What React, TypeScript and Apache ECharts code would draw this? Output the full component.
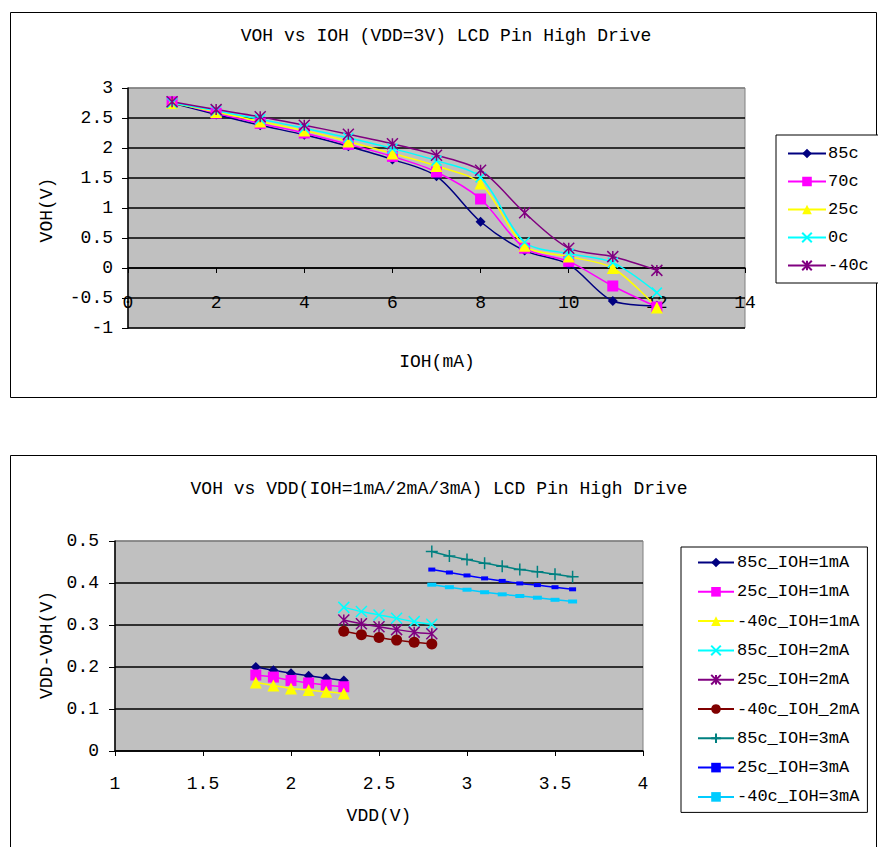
import React, { useEffect, useRef } from 'react';
import * as echarts from 'echarts';

// ---------- Data: top chart (VOH vs IOH, VDD=3V) ----------
const iohValues = [1, 2, 3, 4, 5, 6, 7, 8, 9, 10, 11, 12];
const topSeriesNames = ['85c', '70c', '25c', '0c', '-40c'];
const voh85c = [2.75, 2.56, 2.38, 2.22, 2.03, 1.81, 1.53, 0.77, 0.29, 0.06, -0.55, -0.63];
const voh70c = [2.77, 2.58, 2.41, 2.25, 2.06, 1.86, 1.6, 1.15, 0.33, 0.11, -0.3, -0.65];
const voh25c = [2.75, 2.6, 2.44, 2.29, 2.11, 1.91, 1.7, 1.41, 0.37, 0.19, 0.0, -0.66];
const voh0c = [2.75, 2.62, 2.48, 2.33, 2.17, 1.99, 1.79, 1.51, 0.43, 0.24, 0.09, -0.41];
const vohM40c = [2.77, 2.64, 2.52, 2.38, 2.23, 2.07, 1.88, 1.63, 0.92, 0.33, 0.19, -0.04];

// ---------- Data: bottom chart (VDD-VOH vs VDD) ----------
const vdd1mA = [1.8, 1.9, 2.0, 2.1, 2.2, 2.3];
const vdd2mA = [2.3, 2.4, 2.5, 2.6, 2.7, 2.8];
const vdd3mA = [2.8, 2.9, 3.0, 3.1, 3.2, 3.3, 3.4, 3.5, 3.6];
const drop85c1mA = [0.2, 0.192, 0.185, 0.179, 0.173, 0.168];
const drop25c1mA = [0.181, 0.176, 0.168, 0.162, 0.157, 0.153];
const dropM40c1mA = [0.163, 0.156, 0.149, 0.145, 0.141, 0.137];
const drop85c2mA = [0.342, 0.332, 0.324, 0.316, 0.308, 0.302];
const drop25c2mA = [0.312, 0.303, 0.296, 0.289, 0.283, 0.279];
const dropM40c2mA = [0.285, 0.277, 0.27, 0.264, 0.259, 0.255];
const drop85c3mA = [0.475, 0.464, 0.456, 0.447, 0.44, 0.432, 0.427, 0.421, 0.415];
const drop25c3mA = [0.432, 0.425, 0.418, 0.411, 0.405, 0.399, 0.395, 0.39, 0.385];
const dropM40c3mA = [0.396, 0.39, 0.384, 0.378, 0.373, 0.369, 0.365, 0.36, 0.356];
const bottomSeriesNames = [
  '85c_IOH=1mA', '25c_IOH=1mA', '-40c_IOH=1mA',
  '85c_IOH=2mA', '25c_IOH=2mA', '-40c_IOH_2mA',
  '85c_IOH=3mA', '25c_IOH=3mA', '-40c_IOH=3mA',
];

const topTitle = 'VOH vs IOH (VDD=3V) LCD Pin High Drive';
const bottomTitle = 'VOH vs VDD(IOH=1mA/2mA/3mA) LCD Pin High Drive';

const FONT = "'Liberation Mono', 'Courier New', monospace";

const X_PATH = 'path://M0,0L10,10M0,10L10,0';
const STAR_PATH = 'path://M0,0L10,10M0,10L10,0M5,0L5,10';
const PLUS_PATH = 'path://M5,0L5,10M0,5L10,5';

// top plot geometry (layout only)
const TOP_GRID = { left: 128, top: 88, width: 617, height: 240 };
const TOP_Y_MIN = -1;
const TOP_Y_MAX = 3;

function pairs(xs: number[], ys: number[]) {
  return xs.map((x, i) => [x, ys[i]]);
}

function lineSeries(
  name: string, xs: number[], ys: number[], color: string, symbol: string,
  symbolSize: any, axis: number, smooth: number, stroke = false,
) {
  return {
    type: 'line',
    name,
    xAxisIndex: axis,
    yAxisIndex: axis,
    data: pairs(xs, ys),
    symbol,
    symbolSize,
    smooth,
    showAllSymbol: true,
    lineStyle: { color, width: 1.5 },
    itemStyle: stroke
      ? { color, borderColor: color, borderWidth: 1.5 }
      : { color },
    emphasis: { disabled: true },
  };
}

export default function App() {
  const ref = useRef<HTMLDivElement>(null);

  useEffect(() => {
    if (!ref.current) return;
    const chart = echarts.init(ref.current, undefined, { renderer: 'svg' });

    const axisLabelStyle = { fontFamily: FONT, fontSize: 18, color: '#000' };
    // move the top x axis up from the plot bottom to the y=0 line
    const zeroOffset = -(TOP_GRID.height * (0 - TOP_Y_MIN)) / (TOP_Y_MAX - TOP_Y_MIN);

    const option: any = {
      animation: false,
      backgroundColor: '#fff',
      textStyle: { fontFamily: FONT },
      grid: [
        {
          ...TOP_GRID,
          show: true, backgroundColor: '#C0C0C0', borderColor: '#808080', borderWidth: 1,
        },
        {
          left: 115, top: 541, width: 528, height: 210,
          show: true, backgroundColor: '#C0C0C0', borderColor: '#808080', borderWidth: 1,
        },
      ],
      xAxis: [
        {
          type: 'value', gridIndex: 0, min: 0, max: 14, interval: 2,
          position: 'bottom', offset: zeroOffset,
          axisLine: { show: true, onZero: false, lineStyle: { color: '#000', width: 1.5 } },
          axisTick: { show: true, length: 5, lineStyle: { color: '#000' } },
          axisLabel: { ...axisLabelStyle, margin: 26, showMinLabel: true, showMaxLabel: true },
          splitLine: { show: false },
        },
        {
          type: 'value', gridIndex: 1, min: 1, max: 4, interval: 0.5,
          axisLine: { show: true, onZero: false, lineStyle: { color: '#000', width: 1.5 } },
          axisTick: { show: true, length: 5, lineStyle: { color: '#000' } },
          axisLabel: { ...axisLabelStyle, margin: 24, showMinLabel: true, showMaxLabel: true },
          splitLine: { show: false },
        },
      ],
      yAxis: [
        {
          type: 'value', gridIndex: 0, min: TOP_Y_MIN, max: TOP_Y_MAX, interval: 0.5,
          axisLine: { show: true, onZero: false, lineStyle: { color: '#000', width: 1.5 } },
          axisTick: { show: true, length: 6, lineStyle: { color: '#000' } },
          axisLabel: {
            ...axisLabelStyle, margin: 15,
            formatter: (v: number) => String(Math.round(v * 10) / 10),
          },
          splitLine: {
            show: true,
            lineStyle: {
              width: 1.5,
              color: ['#000', '#000', '#000', '#000', '#000', '#000', '#000', '#000', '#808080'],
            },
          },
        },
        {
          type: 'value', gridIndex: 1, min: 0, max: 0.5, interval: 0.1,
          axisLine: { show: true, onZero: false, lineStyle: { color: '#000', width: 1.5 } },
          axisTick: { show: true, length: 6, lineStyle: { color: '#000' } },
          axisLabel: {
            ...axisLabelStyle, margin: 16,
            formatter: (v: number) => (Math.abs(v) < 1e-9 ? '0' : v.toFixed(1)),
          },
          splitLine: {
            show: true,
            lineStyle: {
              width: 1.5,
              color: ['#000', '#000', '#000', '#000', '#000', '#808080'],
            },
          },
        },
      ],
      legend: [
        {
          data: topSeriesNames,
          orient: 'vertical',
          left: 776, top: 135,
          padding: [10, 10, 9, 11],
          itemGap: 11,
          itemWidth: 38, itemHeight: 12,
          borderColor: '#000', borderWidth: 1,
          backgroundColor: '#fff',
          selectedMode: false,
          textStyle: { fontFamily: FONT, fontSize: 17, color: '#000', padding: [0, 0, 0, -3] },
        },
        {
          data: bottomSeriesNames,
          orient: 'vertical',
          left: 681, top: 547,
          padding: [7, 8, 7, 16],
          itemGap: 12.3,
          itemWidth: 36, itemHeight: 12,
          borderColor: '#000', borderWidth: 1,
          backgroundColor: '#fff',
          selectedMode: false,
          textStyle: { fontFamily: FONT, fontSize: 17, color: '#000', padding: [0, 0, 0, -2] },
        },
      ],
      series: [
        lineSeries('85c', iohValues, voh85c, '#000080', 'diamond', 10, 0, 0.3),
        lineSeries('70c', iohValues, voh70c, '#FF00FF', 'rect', 11, 0, 0.3),
        lineSeries('25c', iohValues, voh25c, '#FFFF00', 'triangle', 12, 0, 0.3),
        lineSeries('0c', iohValues, voh0c, '#00FFFF', X_PATH, 10, 0, 0.3, true),
        lineSeries('-40c', iohValues, vohM40c, '#800080', STAR_PATH, 11, 0, 0.3, true),

        lineSeries('85c_IOH=1mA', vdd1mA, drop85c1mA, '#000080', 'diamond', 10, 1, 0.2),
        lineSeries('25c_IOH=1mA', vdd1mA, drop25c1mA, '#FF00FF', 'rect', 11, 1, 0.2),
        lineSeries('-40c_IOH=1mA', vdd1mA, dropM40c1mA, '#FFFF00', 'triangle', 12, 1, 0.2),
        lineSeries('85c_IOH=2mA', vdd2mA, drop85c2mA, '#00FFFF', X_PATH, 11, 1, 0.2, true),
        lineSeries('25c_IOH=2mA', vdd2mA, drop25c2mA, '#800080', STAR_PATH, 11, 1, 0.2, true),
        lineSeries('-40c_IOH_2mA', vdd2mA, dropM40c2mA, '#800000', 'circle', 11, 1, 0.2),
        lineSeries('85c_IOH=3mA', vdd3mA, drop85c3mA, '#008080', PLUS_PATH, 12, 1, 0.2, true),
        lineSeries('25c_IOH=3mA', vdd3mA, drop25c3mA, '#0000FF', 'rect', [7, 4], 1, 0.2),
        lineSeries('-40c_IOH=3mA', vdd3mA, dropM40c3mA, '#00CCFF', 'rect', [9, 4], 1, 0.2),
      ],
      graphic: [
        {
          type: 'rect', silent: true, z: -10,
          shape: { x: 10.5, y: 12.5, width: 866, height: 385 },
          style: { fill: 'none', stroke: '#000', lineWidth: 1 },
        },
        {
          type: 'rect', silent: true, z: -10,
          shape: { x: 10.5, y: 455.5, width: 866, height: 400 },
          style: { fill: 'none', stroke: '#000', lineWidth: 1 },
        },
        {
          type: 'text', x: 446, y: 36, silent: true,
          style: { text: topTitle, font: `18px ${FONT}`, fill: '#000', textAlign: 'center', textVerticalAlign: 'middle' },
        },
        {
          type: 'text', x: 439, y: 489, silent: true,
          style: { text: bottomTitle, font: `18px ${FONT}`, fill: '#000', textAlign: 'center', textVerticalAlign: 'middle' },
        },
        {
          type: 'text', x: 437, y: 362, silent: true,
          style: { text: 'IOH(mA)', font: `18px ${FONT}`, fill: '#000', textAlign: 'center', textVerticalAlign: 'middle' },
        },
        {
          type: 'text', x: 379, y: 816, silent: true,
          style: { text: 'VDD(V)', font: `18px ${FONT}`, fill: '#000', textAlign: 'center', textVerticalAlign: 'middle' },
        },
        {
          type: 'text', x: 47, y: 210, rotation: Math.PI / 2, silent: true,
          style: { text: 'VOH(V)', font: `18px ${FONT}`, fill: '#000', textAlign: 'center', textVerticalAlign: 'middle' },
        },
        {
          type: 'text', x: 47, y: 645, rotation: Math.PI / 2, silent: true,
          style: { text: 'VDD-VOH(V)', font: `18px ${FONT}`, fill: '#000', textAlign: 'center', textVerticalAlign: 'middle' },
        },
      ],
    };

    chart.setOption(option);
    return () => chart.dispose();
  }, []);

  return (
    <div
      ref={ref}
      style={{ position: 'absolute', left: 0, top: 0, width: 878, height: 847 }}
    />
  );
}
